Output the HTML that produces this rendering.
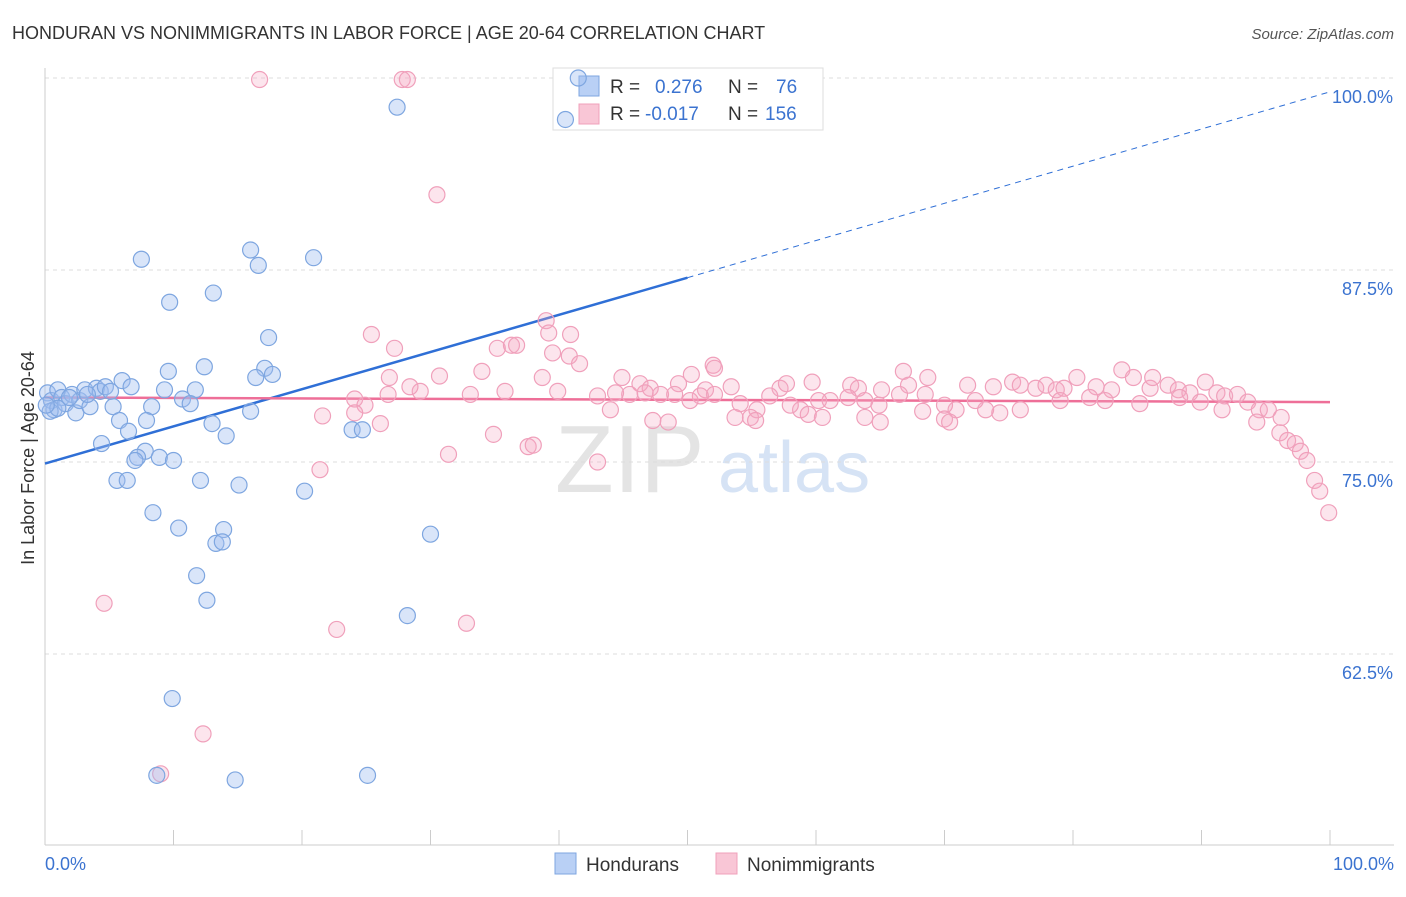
<!DOCTYPE html>
<html><head><meta charset="utf-8"><style>
body{margin:0;background:#fff;font-family:"Liberation Sans",sans-serif;}
svg text{font-family:"Liberation Sans",sans-serif;}
</style></head><body>
<svg id="chart" width="1406" height="892" xmlns="http://www.w3.org/2000/svg">
<text x="12" y="39" font-size="18" fill="#333">HONDURAN VS NONIMMIGRANTS IN LABOR FORCE | AGE 20-64 CORRELATION CHART</text>
<text x="1394" y="39" font-size="15" fill="#555" font-style="italic" text-anchor="end">Source: ZipAtlas.com</text>
<text x="555" y="492" font-size="96" fill="#e4e4e4" font-family="Liberation Serif">ZIP</text>
<text x="718" y="492" font-size="72" fill="#d6e3f5">atlas</text>
<g id="grid"></g>
<g id="axes"></g>
<g>
<rect x="553" y="68" width="270" height="62" fill="#fff" stroke="#ddd"/>
<rect x="579" y="76" width="20" height="20" fill="#b9d0f5" stroke="#7ea6e0"/>
<rect x="579" y="104" width="20" height="20" fill="#f9c6d6" stroke="#f0a0bb"/>
<text x="610" y="93" font-size="19" fill="#333">R = </text><text x="655" y="93" font-size="19" fill="#3b73d0">0.276</text>
<text x="728" y="93" font-size="19" fill="#333">N = </text><text x="776" y="93" font-size="19" fill="#3b73d0">76</text>
<text x="610" y="120" font-size="19" fill="#333">R = </text><text x="645" y="120" font-size="19" fill="#3b73d0">-0.017</text>
<text x="728" y="120" font-size="19" fill="#333">N = </text><text x="765" y="120" font-size="19" fill="#3b73d0">156</text>
</g>
<g id="trend"></g>
<g id="pts"></g>
<text transform="translate(34,458) rotate(-90)" font-size="18" fill="#333" text-anchor="middle">In Labor Force | Age 20-64</text>
<text x="45" y="870" font-size="18" fill="#3b73d0">0.0%</text>
<text x="1394" y="870" font-size="18" fill="#3b73d0" text-anchor="end">100.0%</text>
<g>
<rect x="555" y="853" width="21" height="21" fill="#b9d0f5" stroke="#7ea6e0"/>
<text x="586" y="871" font-size="19" fill="#333">Hondurans</text>
<rect x="716" y="853" width="21" height="21" fill="#f9c6d6" stroke="#f0a0bb"/>
<text x="747" y="871" font-size="19" fill="#333">Nonimmigrants</text>
</g>
</svg>
<script>
const yTicks=[100,87.5,75,62.5];
const yTickLabels=["100.0%","87.5%","75.0%","62.5%"];
const blueX=[27.4,40.5,41.5,16.0,16.6,20.9,7.5,9.7,13.1,17.4,12.4,9.6,17.1,17.7,16.4,6.0,6.7,9.3,11.7,10.7,11.3,8.3,16.0,5.3,13.0,7.9,5.8,6.5,14.1,23.9,24.7,4.4,7.8,7.2,7.0,8.9,10.0,5.6,6.4,12.1,15.1,20.2,8.4,10.4,13.9,13.3,13.8,30.0,11.8,12.6,28.2,9.9,8.7,14.8,25.1,0.2,0.5,0.7,0.4,1.0,1.3,1.6,2.1,2.4,2.7,3.1,3.5,4.0,4.3,4.7,5.1,1.0,0.1,1.9,3.3];
const blueY=[98.1,97.3,100,88.8,87.8,88.3,88.2,85.4,86.0,83.1,81.2,80.9,81.1,80.7,80.5,80.3,79.9,79.7,79.7,79.1,78.8,78.6,78.3,78.6,77.5,77.7,77.7,77.0,76.7,77.1,77.1,76.2,75.7,75.3,75.1,75.3,75.1,73.8,73.8,73.8,73.5,73.1,71.7,70.7,70.6,69.7,69.8,70.3,67.6,66.0,65.0,59.6,54.6,54.3,54.6,79.5,79.0,78.4,78.3,79.7,79.2,78.8,79.4,78.2,79.0,79.7,78.6,79.8,79.6,79.9,79.6,78.5,78.7,79.2,79.4];
const pinkX=[16.7,27.8,28.2,30.5,39.0,40.9,25.4,39.2,27.2,35.2,36.3,36.7,39.5,40.8,41.6,52.0,52.1,50.3,34.0,26.8,30.7,66.8,68.7,44.9,46.3,47.1,49.3,51.4,53.4,57.2,57.7,59.7,62.7,63.3,65.1,67.2,71.8,73.8,75.3,75.9,77.1,77.9,78.7,79.3,80.3,81.8,83.0,83.8,84.7,86.0,86.2,87.4,88.2,89.1,90.3,91.2,91.8,92.8,93.6,94.5,95.2,96.2,94.3,96.1,96.7,97.3,97.7,98.2,98.8,99.2,99.9,91.6,89.9,88.3,85.2,82.5,81.3,79.0,75.9,74.3,73.2,72.4,70.9,70.0,68.5,66.5,64.9,63.8,62.5,61.1,60.2,58.8,58.0,56.4,55.4,54.9,54.1,52.1,51.0,50.2,49.0,47.9,46.7,45.5,44.4,43.0,44.0,47.3,48.5,53.7,55.3,59.4,60.5,63.8,65.0,68.3,70.0,70.4,38.7,39.9,35.8,33.1,29.2,28.4,26.7,24.1,24.9,24.1,26.1,21.6,34.9,37.6,38.0,43.0,31.4,21.4,4.6,22.7,32.8,12.3,9.0];
const pinkY=[99.9,99.9,99.9,92.4,84.2,83.3,83.3,83.4,82.4,82.4,82.6,82.6,82.1,81.9,81.4,81.3,81.1,80.7,80.9,80.5,80.6,80.9,80.5,80.5,80.1,79.8,80.1,79.7,79.9,79.8,80.1,80.2,80.0,79.8,79.7,80.0,80.0,79.9,80.2,80.0,79.8,80.0,79.7,79.8,80.5,79.9,79.7,81.0,80.5,79.8,80.5,80.0,79.7,79.5,80.2,79.5,79.3,79.4,78.9,78.4,78.4,77.9,77.6,76.9,76.4,76.2,75.7,75.1,73.8,73.1,71.7,78.4,78.9,79.2,78.8,79.0,79.2,79.0,78.4,78.2,78.4,79.0,78.4,78.7,79.4,79.4,78.7,79.0,79.2,79.0,79.0,78.4,78.7,79.3,78.4,77.9,78.8,79.4,79.3,79.0,79.4,79.4,79.5,79.4,79.5,79.3,78.4,77.7,77.6,77.9,77.7,78.1,77.9,77.9,77.6,78.3,77.8,77.6,80.5,79.6,79.6,79.4,79.6,79.9,79.4,79.1,78.7,78.2,77.5,78.0,76.8,76.0,76.1,75.0,75.5,74.5,65.8,64.1,64.5,57.3,54.7];
const blueTrend=[74.9,99.1];
const pinkTrend=[79.2,78.9];
const NS="http://www.w3.org/2000/svg";
const xs=v=>45+v*12.85;
const ys=v=>78+(100-v)*15.36;
function mk(tag,attrs,parent){const e=document.createElementNS(NS,tag);for(const k in attrs)e.setAttribute(k,attrs[k]);parent.appendChild(e);return e;}
const grid=document.getElementById('grid'),axes=document.getElementById('axes'),trend=document.getElementById('trend'),pts=document.getElementById('pts');
yTicks.forEach((t,i)=>{
 const l=mk('line',{x1:45,x2:1394,y1:ys(t),y2:ys(t),stroke:'#ddd','stroke-dasharray':'4,4'},grid);
 
 
 const tx=mk('text',{x:1393,y:ys(t)+25,'font-size':18,fill:'#3b73d0','text-anchor':'end'},grid);
 tx.textContent=yTickLabels[i];
 
 
});
const ax=mk('line',{x1:45,x2:1394,y1:845,y2:845,stroke:'#ccc'},axes);


const ay=mk('line',{x1:45,x2:45,y1:68,y2:845,stroke:'#ccc'},axes);


for(let i=0;i<=10;i++){const t=mk('line',{x1:xs(i*10),x2:xs(i*10),y1:830,y2:845,stroke:'#ccc'},axes);
 
 }
function addPts(X,Y,fill,stroke,name){X.forEach((x,i)=>{const c=mk('circle',{cx:xs(x),cy:ys(Y[i]),r:8,fill:fill,stroke:stroke,'stroke-width':1.2},pts);
 
 });}
addPts(pinkX,pinkY,'rgba(245,170,195,0.3)','#f0a0bb','nonimmigrants-point');
addPts(blueX,blueY,'rgba(160,190,240,0.4)','#7ea6e0','hondurans-point');
const bAt=x=>blueTrend[0]+(blueTrend[1]-blueTrend[0])*x/100;
const b1=mk('line',{x1:xs(0),y1:ys(bAt(0)),x2:xs(50),y2:ys(bAt(50)),stroke:'#2f6fd6','stroke-width':2.5},trend);


const b2=mk('line',{x1:xs(50),y1:ys(bAt(50)),x2:xs(100),y2:ys(bAt(100)),stroke:'#2f6fd6','stroke-width':1,'stroke-dasharray':'6,5'},trend);


const p1=mk('line',{x1:xs(0),y1:ys(pinkTrend[0]),x2:xs(100),y2:ys(pinkTrend[1]),stroke:'#ee6f98','stroke-width':2.5},trend);


</script>
</body></html>
